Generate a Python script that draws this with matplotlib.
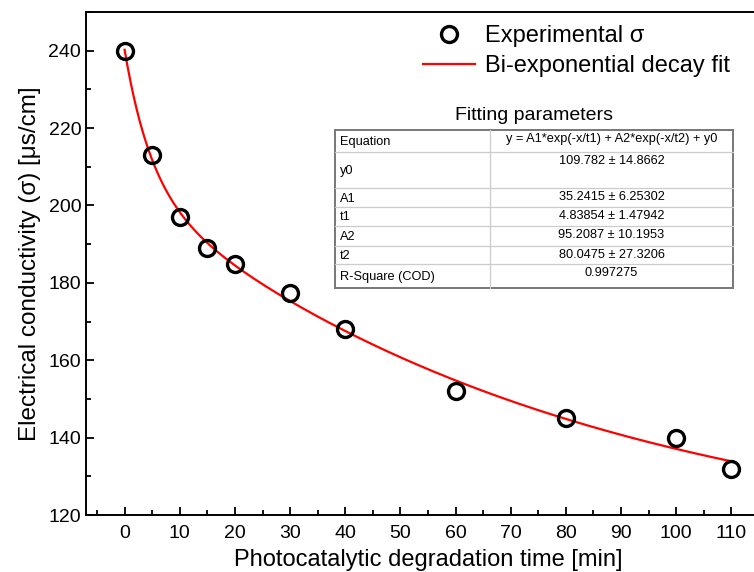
import numpy as np
import matplotlib.pyplot as plt

plt.rcParams['font.family'] = ['Liberation Sans', 'DejaVu Sans']

# measured points
time_min = [0, 5, 10, 15, 20, 30, 40, 60, 80, 100, 110]
sigma = [240, 213, 197, 189, 185, 177.5, 168, 152, 145, 140, 132]

# fit parameters (from the table in the figure)
y0 = 109.782
A1 = 35.2415
t1 = 4.83854
A2 = 95.2087
t2 = 80.0475

table_rows = [
    ("Equation", "y = A1*exp(-x/t1) + A2*exp(-x/t2) + y0"),
    ("y0", "109.782 ± 14.8662"),
    ("A1", "35.2415 ± 6.25302"),
    ("t1", "4.83854 ± 1.47942"),
    ("A2", "95.2087 ± 10.1953"),
    ("t2", "80.0475 ± 27.3206"),
    ("R-Square (COD)", "0.997275"),
]
# row edges in pixels from the top of the figure
row_edges = [130, 152, 188, 207, 226, 246, 264, 288]

W, H = 754, 572
fig = plt.figure(figsize=(W / 100, H / 100), dpi=100)
ax = fig.add_axes([86 / W, (H - 515) / H, 684 / W, 503 / H])

x_fit = np.linspace(0, 110, 400)
y_fit = A1 * np.exp(-x_fit / t1) + A2 * np.exp(-x_fit / t2) + y0

ax.plot(time_min, sigma, 'o', mfc='none', mec='black', ms=11.5, mew=2.4,
        label='Experimental σ', zorder=3)
ax.plot(x_fit, y_fit, color='red', lw=1.6, label='Bi-exponential decay fit', zorder=2)

ax.set_xlim(-7, 117)
ax.set_ylim(120, 250)
ax.set_xticks(np.arange(0, 111, 10))
ax.set_xticks(np.arange(-5, 116, 10), minor=True)
ax.set_yticks(np.arange(120, 241, 20))
ax.set_yticks(np.arange(130, 251, 20), minor=True)
ax.tick_params(which='both', direction='in', width=1.3, labelsize=14)
ax.tick_params(which='major', length=6)
ax.tick_params(which='minor', length=3.5)
ax.tick_params(axis='x', pad=7)
for s in ax.spines.values():
    s.set_linewidth(1.4)

ax.set_xlabel('Photocatalytic degradation time [min]', fontsize=17, labelpad=5)
ax.set_ylabel('Electrical conductivity (σ) [μs/cm]', fontsize=17.5, labelpad=5)

leg = ax.legend(loc='upper left', bbox_to_anchor=(423 / W, 1 - 25 / H),
                bbox_transform=fig.transFigure, frameon=False, fontsize=17,
                handlelength=2.2, handletextpad=0.42, labelspacing=0.35,
                borderpad=0, borderaxespad=0)

# parameter table
tx0, tx1, tsplit = 335, 733, 490
tab = fig.add_axes([0, 0, 1, 1], facecolor='none')
tab.set_xlim(0, W)
tab.set_ylim(H, 0)
tab.axis('off')
tab.text((tx0 + tx1) / 2, 116, 'Fitting parameters', fontsize=14, ha='center', va='center')
tab.add_patch(plt.Rectangle((tx0, row_edges[0]), tx1 - tx0, row_edges[-1] - row_edges[0],
                            facecolor='white', edgecolor='#777777', lw=1.4, zorder=1))
for ye in row_edges[1:-1]:
    tab.plot([tx0, tx1], [ye, ye], color='#cccccc', lw=0.9, zorder=2)
tab.plot([tsplit, tsplit], [row_edges[0], row_edges[-1]], color='#cccccc', lw=0.9, zorder=2)
for i, (name, val) in enumerate(table_rows):
    top, bot = row_edges[i], row_edges[i + 1]
    tab.text(tx0 + 5, (top + bot) / 2 + 1, name, fontsize=9.2, ha='left', va='center', zorder=3)
    tab.text((tsplit + tx1) / 2, top + 3, val, fontsize=9.2, ha='center', va='top', zorder=3)

fig.savefig('out.png', dpi=100)
